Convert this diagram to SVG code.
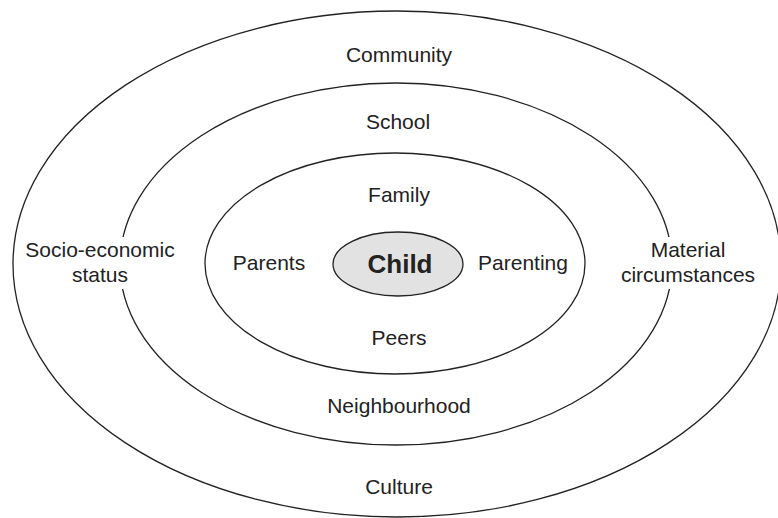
<svg xmlns="http://www.w3.org/2000/svg" width="778" height="518" viewBox="0 0 778 518">
<style>
.ring{fill:none;stroke:#222;stroke-width:1.3}
.lbl{font-family:"Liberation Sans",Arial,sans-serif;font-size:21px;fill:#222;text-anchor:middle}
.child{font-family:"Liberation Sans",Arial,sans-serif;font-size:26px;font-weight:bold;fill:#222;text-anchor:middle}
.mask{fill:#fff;stroke:none}
</style>
<rect width="778" height="518" fill="#fff"/>
<g id="school">
<ellipse class="ring" cx="396" cy="264" rx="276" ry="181"/>
<text class="lbl" x="398" y="129">School</text>
<text class="lbl" x="399" y="413">Neighbourhood</text>
</g>
<g id="community">
<ellipse class="ring" cx="397" cy="264" rx="384" ry="253"/>
<rect class="mask" x="24" y="237" width="153" height="52"/>
<rect class="mask" x="619" y="237" width="138" height="52"/>
<text class="lbl" x="100" y="257">Socio-economic</text>
<text class="lbl" x="100" y="282">status</text>
<text class="lbl" x="688" y="257">Material</text>
<text class="lbl" x="688" y="282">circumstances</text>
<text class="lbl" x="399" y="62">Community</text>
<text class="lbl" x="399" y="494">Culture</text>
</g>
<g id="family">
<ellipse class="ring" cx="395" cy="263.5" rx="190" ry="110.5"/>
<text class="lbl" x="399" y="202">Family</text>
<text class="lbl" x="269" y="270">Parents</text>
<text class="lbl" x="523" y="270">Parenting</text>
<text class="lbl" x="399" y="345">Peers</text>
</g>
<g id="child">
<ellipse cx="398" cy="264" rx="65" ry="32" fill="#e2e2e2" stroke="#222" stroke-width="1.3"/>
<text class="child" x="400" y="273">Child</text>
</g>
<g id="connectors"/>
</svg>
